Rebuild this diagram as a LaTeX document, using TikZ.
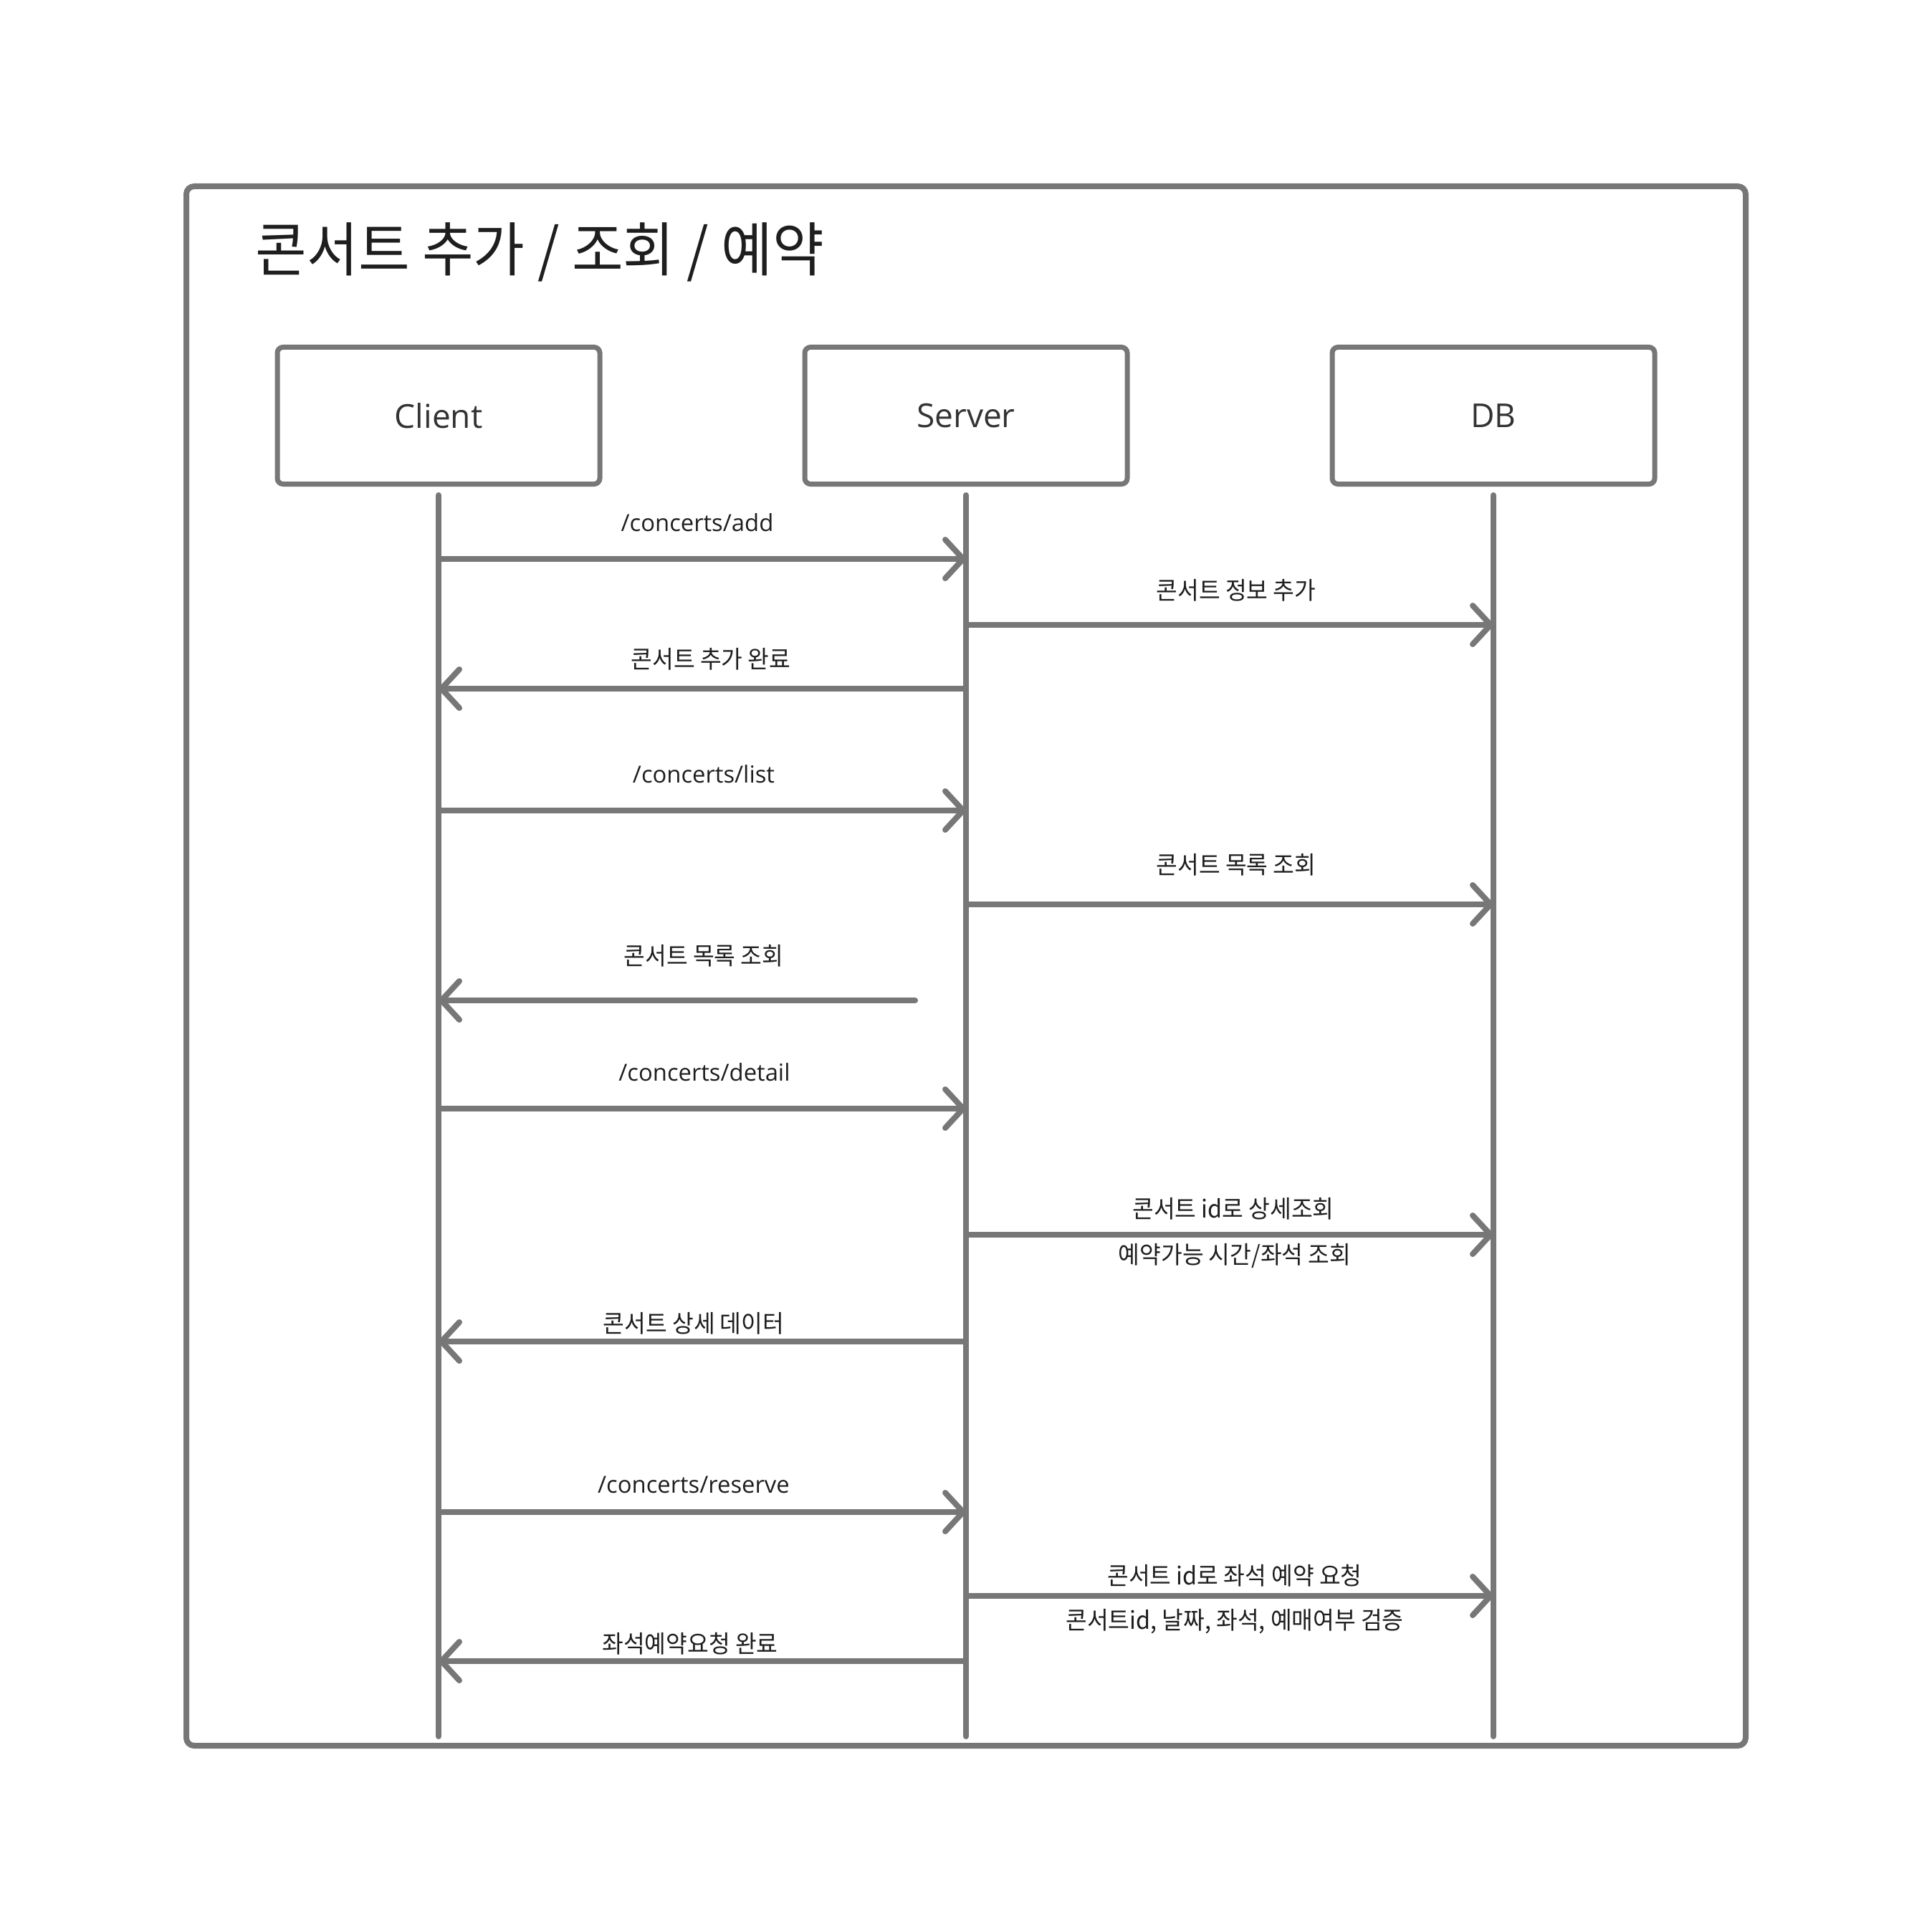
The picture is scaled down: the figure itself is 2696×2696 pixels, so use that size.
\documentclass[tikz,border=0pt]{standalone}
\usepackage{fontspec}
\setmainfont{Open Sans}
\newfontfamily\kr[FakeStretch=0.95]{Noto Sans CJK KR}
\usetikzlibrary{arrows.meta}
\definecolor{gc}{HTML}{777777}
\definecolor{tc}{HTML}{1E1E1E}
\definecolor{bc}{HTML}{333333}
\begin{document}
\begin{tikzpicture}[x=0.25pt,y=-0.25pt,
  frame/.style={draw=gc, line width=2pt, rounded corners=2.75pt},
  actor/.style={draw=gc, line width=1.75pt, rounded corners=2pt, minimum width=112.5pt, minimum height=47.75pt, inner sep=0pt, text=bc, font=\fontsize{11.5}{13}\selectfont},
  life/.style={draw=gc, line width=2pt, line cap=round},
  msg/.style={draw=gc, line width=2pt, line cap=round, -{Straight Barb[length=6.25pt, width=13.5pt, round]}},
  lbl/.style={text=tc, inner sep=0pt, font=\fontsize{8.2}{10}\selectfont},
  klbl/.style={text=tc, inner sep=0pt, font=\kr\fontsize{8.5}{10}\selectfont}]
\useasboundingbox (0,0) rectangle (2696,2696);
\fill[white] (0,0) rectangle (2696,2696);
\draw[frame] (260,260) rectangle (2436,2436);
\node[text=tc, anchor=west, inner sep=0pt, font=\kr\fontsize{20.5}{24}\selectfont] (title) at (356,352) {콘서트 추가 / 조회 / 예약};
% actors
\node[actor] (client) at (612,580) {Client};
\node[actor] (server) at (1348,580) {Server};
\node[actor] (db) at (2084,580) {DB};
% lifelines
\coordinate (clT) at (612,691); \coordinate (clB) at (612,2423);
\coordinate (svT) at (1348,691); \coordinate (svB) at (1348,2423);
\coordinate (dbT) at (2084,691); \coordinate (dbB) at (2084,2423);
\draw[life] (clT) -- (clB);
\draw[life] (svT) -- (svB);
\draw[life] (dbT) -- (dbB);
% messages
\draw[msg] (clT |- 0,780) -- (svT |- 0,780);
\node[lbl] (m1) at (973,729) {/concerts/add};
\draw[msg] (svT |- 0,872) -- (dbT |- 0,872);
\node[klbl] (m2) at (1725,824) {콘서트 정보 추가};
\draw[msg] (svT |- 0,961) -- (clT |- 0,961);
\node[klbl] (m3) at (992,920) {콘서트 추가 완료};
\draw[msg] (clT |- 0,1131) -- (svT |- 0,1131);
\node[lbl] (m4) at (982,1080) {/concerts/list};
\draw[msg] (svT |- 0,1262) -- (dbT |- 0,1262);
\node[klbl] (m5) at (1725,1207) {콘서트 목록 조회};
\coordinate (m6s) at (1277,1396);
\draw[msg] (m6s) -- (clT |- m6s);
\node[klbl] (m6) at (982,1334) {콘서트 목록 조회};
\draw[msg] (clT |- 0,1547) -- (svT |- 0,1547);
\node[lbl] (m7) at (983,1496) {/concerts/detail};
\draw[msg] (svT |- 0,1723) -- (dbT |- 0,1723);
\node[klbl] (m8) at (1721,1687) {콘서트 id로 상세조회};
\node[klbl] (m8b) at (1723,1752) {예약가능 시간/좌석 조회};
\draw[msg] (svT |- 0,1872) -- (clT |- 0,1872);
\node[klbl] (m9) at (968,1847) {콘서트 상세 데이터};
\draw[msg] (clT |- 0,2110) -- (svT |- 0,2110);
\node[lbl] (m10) at (968,2072) {/concerts/reserve};
\draw[msg] (svT |- 0,2227) -- (dbT |- 0,2227);
\node[klbl] (m11) at (1723,2199) {콘서트 id로 좌석 예약 요청};
\node[klbl] (m11b) at (1723,2263) {콘서트id, 날짜, 좌석, 예매여부 검증};
\draw[msg] (svT |- 0,2318) -- (clT |- 0,2318);
\node[klbl] (m12) at (963,2294) {좌석예약요청 완료};
\end{tikzpicture}
\end{document}
